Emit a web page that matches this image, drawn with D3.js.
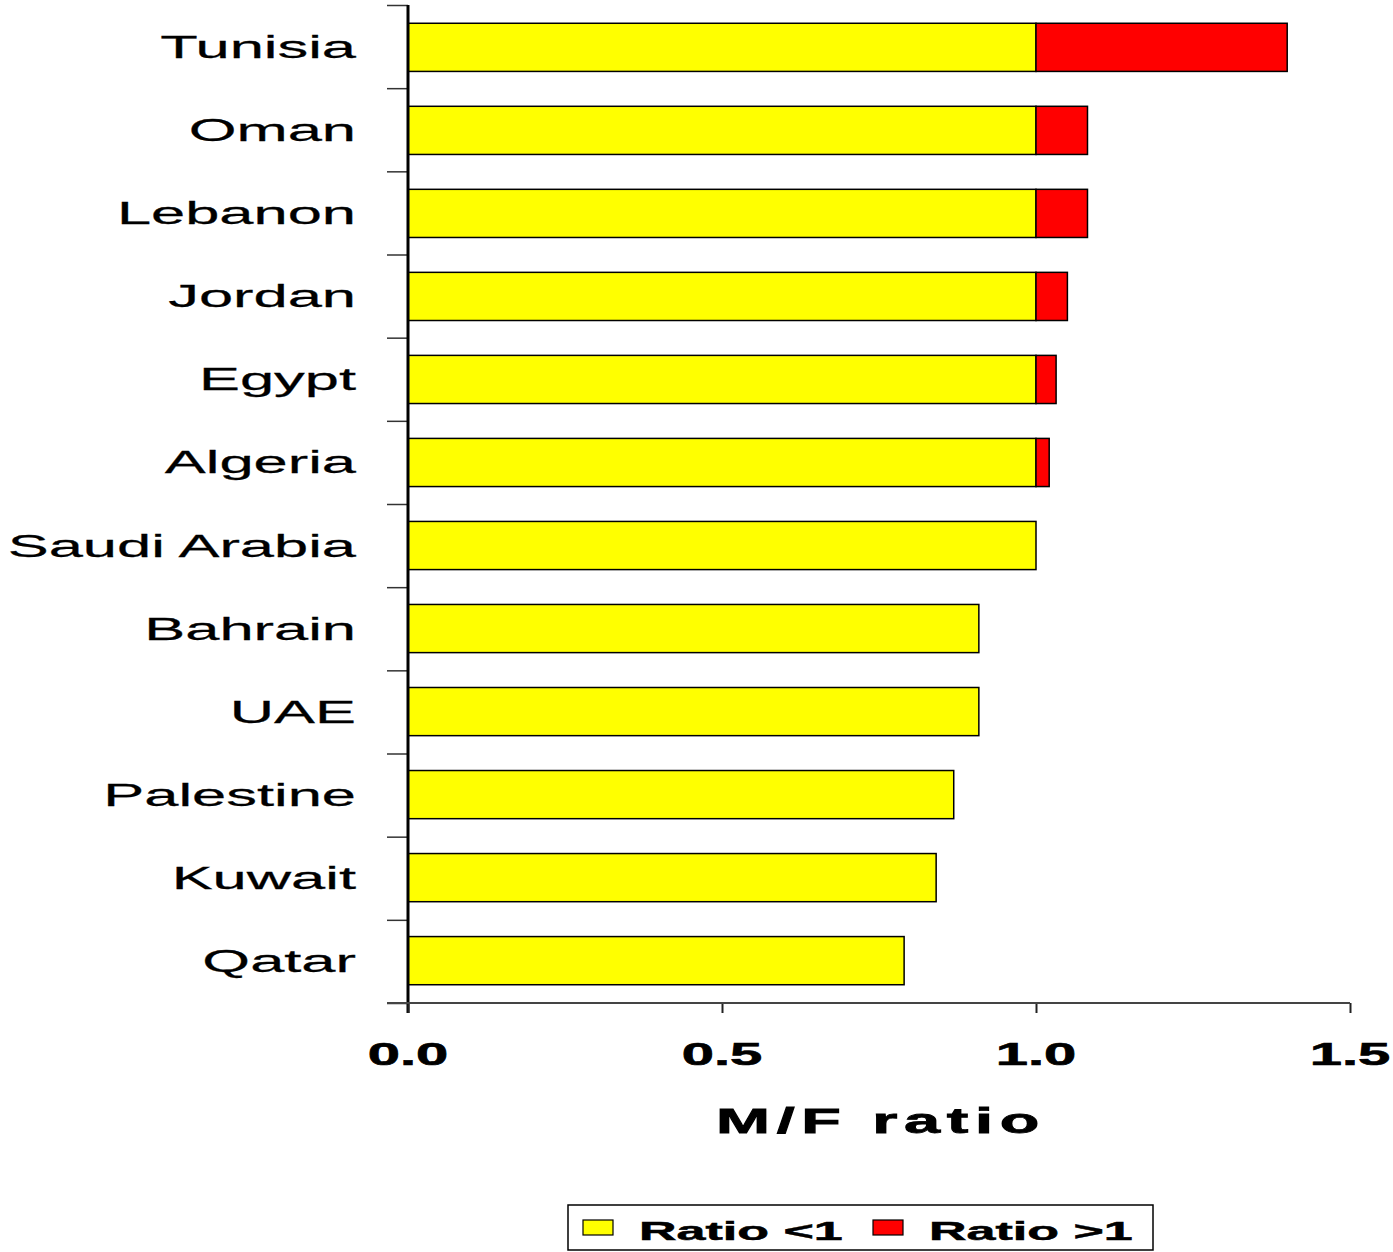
<!DOCTYPE html>
<html>
<head>
<meta charset="utf-8">
<script src="https://cdnjs.cloudflare.com/ajax/libs/d3/7.8.5/d3.min.js"></script>
<style>
  body { margin: 0; background: #fff; }
  text { font-family: "Liberation Sans", Arial, sans-serif; fill: #000; }
</style>
</head>
<body>
<div id="chart"></div>
<script>
// data (M/F ratio)
var countries = ["Tunisia", "Oman", "Lebanon", "Jordan", "Egypt", "Algeria",
    "Saudi Arabia", "Bahrain", "UAE", "Palestine", "Kuwait", "Qatar"];
var ratios = [1.40, 1.082, 1.082, 1.05, 1.032, 1.021, 1.0, 0.909, 0.909, 0.869, 0.841, 0.79];
var xTicks = [0, 0.5, 1.0, 1.5];
var seriesNames = ["Ratio <1", "Ratio >1"];
var seriesColors = ["#ffff00", "#ff0000"];

var width = 1393, height = 1252;
var plotLeft = 408, plotRight = 1350, plotTop = 5, plotBottom = 1003;
var sx = 1.87; // text in the picture is stretched horizontally

var svg = d3.select("#chart")
    .append("svg")
    .attr("width", width)
    .attr("height", height);

var x = d3.scaleLinear().domain([0, 1.5]).range([plotLeft, plotRight]);
var y = d3.scaleBand().domain(countries).range([plotTop, plotBottom]).paddingInner(0.42).paddingOuter(0.22);
var yLin = d3.scaleLinear().domain([0, countries.length]).range([plotTop, plotBottom]);

// stack data: part below 1 and part above 1
var rows = countries.map(function (c, i) {
    return { country: c, low: Math.min(ratios[i], 1), high: Math.max(ratios[i] - 1, 0) };
});
var stack = d3.stack().keys(["low", "high"]);
var layers = stack(rows);

svg.selectAll(".layer")
    .data(layers)
    .enter()
    .append("g")
    .attr("fill", function (d, i) { return seriesColors[i]; })
    .selectAll("rect")
    .data(function (d) { return d.filter(function (p) { return p[1] > p[0]; }); })
    .enter()
    .append("rect")
    .attr("x", function (d) { return x(d[0]); })
    .attr("y", function (d) { return y(d.data.country); })
    .attr("width", function (d) { return x(d[1]) - x(d[0]); })
    .attr("height", y.bandwidth())
    .attr("stroke", "#000")
    .attr("stroke-width", 1.5);

// y axis: ticks at band boundaries
var yAxis = svg.append("g")
    .attr("transform", "translate(" + plotLeft + ",0)")
    .call(d3.axisLeft(yLin).ticks(countries.length).tickSize(21).tickFormat(""));
yAxis.select(".domain").remove();
yAxis.selectAll(".tick line").attr("stroke", "#333").attr("stroke-width", 1.5);
svg.append("line")
    .attr("x1", plotLeft).attr("x2", plotLeft)
    .attr("y1", plotTop).attr("y2", plotBottom + 10)
    .attr("stroke", "#000").attr("stroke-width", 3);

// x axis
var xAxis = svg.append("g")
    .attr("transform", "translate(0," + plotBottom + ")")
    .call(d3.axisBottom(x).tickValues(xTicks).tickSize(10).tickFormat(""));
xAxis.select(".domain").remove();
xAxis.selectAll(".tick line").attr("stroke", "#222").attr("stroke-width", 2);
svg.append("line")
    .attr("x1", plotLeft - 21).attr("x2", plotRight)
    .attr("y1", plotBottom).attr("y2", plotBottom)
    .attr("stroke", "#444").attr("stroke-width", 2);

// x tick labels
svg.selectAll(".xlab")
    .data(xTicks)
    .enter()
    .append("g")
    .attr("transform", function (d) { return "translate(" + x(d) + ",1065) scale(" + sx + ",1)"; })
    .append("text")
    .attr("text-anchor", "middle")
    .attr("font-weight", "bold")
    .attr("font-size", 31)
    .attr("stroke", "#000").attr("stroke-width", 0.6)
    .text(function (d) { return d3.format(".1f")(d); });

// country labels
svg.selectAll(".ylab")
    .data(countries)
    .enter()
    .append("g")
    .attr("transform", function (d) {
        return "translate(356," + (y(d) + y.bandwidth() / 2 + 11) + ") scale(1.92,1)";
    })
    .append("text")
    .attr("text-anchor", "end")
    .attr("font-size", 32)
    .attr("stroke", "#000").attr("stroke-width", 0.25)
    .text(function (d) { return d; });

// axis title
svg.append("g")
    .attr("transform", "translate(881,1133) scale(1.8,1)")
    .append("text")
    .attr("text-anchor", "middle")
    .attr("font-weight", "bold")
    .attr("font-size", 36)
    .attr("letter-spacing", 3.7)
    .attr("stroke", "#000").attr("stroke-width", 0.8)
    .text("M/F ratio");

// legend
var legend = svg.append("g");
legend.append("rect")
    .attr("x", 568).attr("y", 1205)
    .attr("width", 585).attr("height", 45)
    .attr("fill", "#fff").attr("stroke", "#000").attr("stroke-width", 1.5);
var legendX = [583, 873];
seriesNames.forEach(function (name, i) {
    legend.append("rect")
        .attr("x", legendX[i]).attr("y", 1220)
        .attr("width", 30).attr("height", 15)
        .attr("fill", seriesColors[i]).attr("stroke", "#000").attr("stroke-width", 1.2);
    legend.append("g")
        .attr("transform", "translate(" + (legendX[i] + 56) + ",1240) scale(2.0,1)")
        .append("text")
        .attr("font-weight", "bold")
        .attr("font-size", 26)
        .attr("stroke", "#000").attr("stroke-width", 0.5)
        .text(name);
});
</script>
</body>
</html>
